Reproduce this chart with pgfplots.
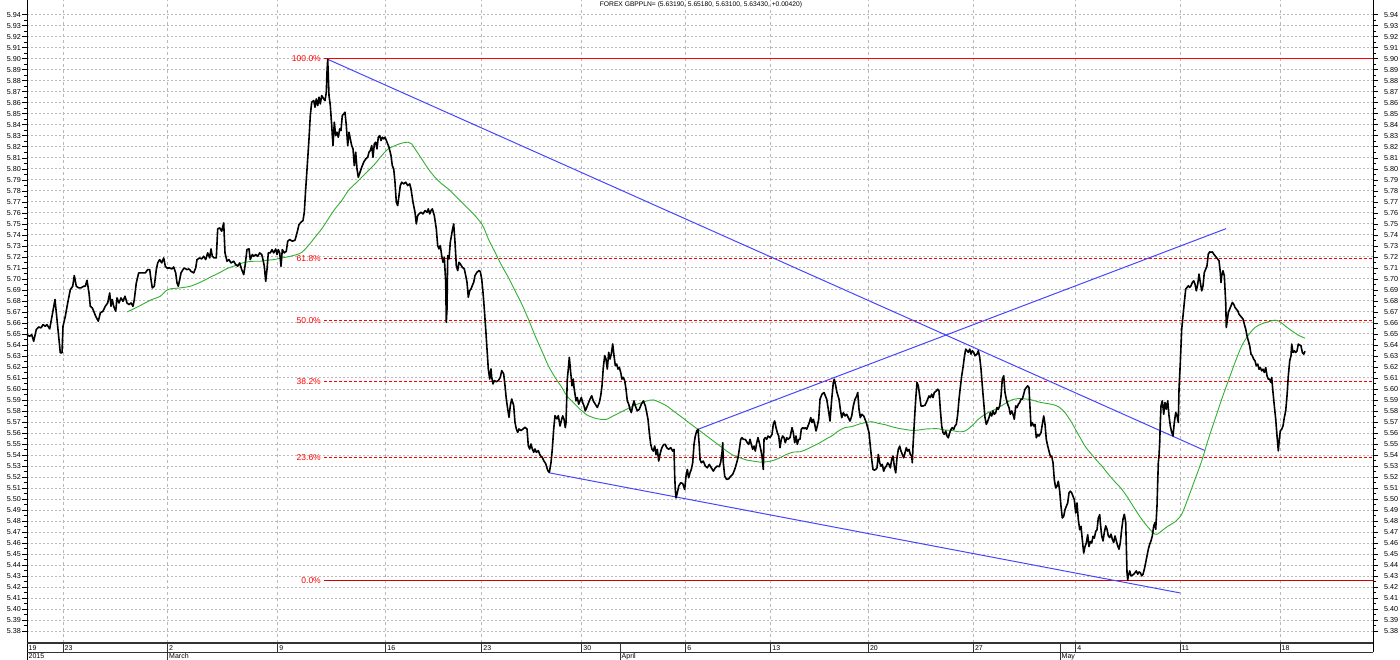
\documentclass[border=0pt]{standalone}
\usepackage{pgfplots}
\pgfplotsset{compat=1.18}
\usepackage{fontspec}
\setmainfont{Liberation Sans}
\definecolor{fibred}{RGB}{255,0,0}
\definecolor{trendblue}{RGB}{70,70,255}
\definecolor{magreen}{RGB}{50,175,50}
\definecolor{gridgray}{RGB}{185,185,185}
\begin{document}
\begin{tikzpicture}
\useasboundingbox (0,0) rectangle (1400bp,660bp);
\begin{axis}[
  at={(27bp,17bp)}, anchor=south west,
  scale only axis, width=1346bp, height=643bp,
  xmin=27, xmax=1373, ymin=5.3691, ymax=5.9534,
  axis line style={draw=none},
  xtick={63,167.5,277.7,385.7,481.7,581.7,685.7,770.7,868.3,973.3,1075.7,1180,1280},
  xticklabels={}, x tick style={draw=none},
  xmajorgrids, x grid style={gridgray, dash pattern=on 3bp off 3bp, line width=0.8bp},
  ytick={5.38,5.39,5.40,5.41,5.42,5.43,5.44,5.45,5.46,5.47,5.48,5.49,5.50,5.51,5.52,5.53,5.54,5.55,5.56,5.57,5.58,5.59,5.60,5.61,5.62,5.63,5.64,5.65,5.66,5.67,5.68,5.69,5.70,5.71,5.72,5.73,5.74,5.75,5.76,5.77,5.78,5.79,5.80,5.81,5.82,5.83,5.84,5.85,5.86,5.87,5.88,5.89,5.90,5.91,5.92,5.93,5.94},
  minor y tick num=1,
  ymajorgrids, y grid style={gridgray, dash pattern=on 2bp off 2bp, line width=0.8bp},
  ytick pos=left, yticklabel pos=left, scaled y ticks=false,
  tick align=outside, major tick length=5bp, minor tick length=3bp,
  y tick style={black, line width=0.6bp},
  yticklabel style={font=\fontsize{7.2bp}{8bp}\selectfont, inner sep=1bp,
    /pgf/number format/fixed, /pgf/number format/fixed zerofill,
    /pgf/number format/precision=2, /pgf/number format/assume math mode=true},
  clip=false,
]
% Fibonacci levels
\addplot[color=fibred, line width=1.3bp] coordinates {(324,5.9000) (1373,5.9000)};
\addplot[color=fibred, line width=1.2bp, dash pattern=on 3bp off 2bp] coordinates {(324,5.7183) (1373,5.7183)};
\addplot[color=fibred, line width=1.2bp, dash pattern=on 3bp off 2bp] coordinates {(324,5.6625) (1373,5.6625)};
\addplot[color=fibred, line width=1.2bp, dash pattern=on 3bp off 2bp] coordinates {(324,5.6067) (1373,5.6067)};
\addplot[color=fibred, line width=1.2bp, dash pattern=on 3bp off 2bp] coordinates {(324,5.5376) (1373,5.5376)};
\addplot[color=fibred!85!black, line width=1.2bp] coordinates {(324,5.4260) (1373,5.4260)};
\begin{scope}[every node/.style={anchor=east, text=fibred, font=\fontsize{8.5bp}{9bp}\selectfont, inner sep=0.5bp}]
\node at (axis cs:321.5,5.9000) {100.0\%};
\node at (axis cs:321.5,5.7183) {61.8\%};
\node at (axis cs:321.5,5.6625) {50.0\%};
\node at (axis cs:321.5,5.6067) {38.2\%};
\node at (axis cs:321.5,5.5376) {23.6\%};
\node at (axis cs:321.5,5.4260) {0.0\%};
\end{scope}
% trend lines
\addplot[trendblue, line width=1bp] coordinates {(327.7,5.8995) (1205,5.5439)};
\addplot[trendblue, line width=1bp] coordinates {(550,5.5236) (1180,5.4146)};
\addplot[trendblue, line width=1bp] coordinates {(698,5.5633) (1226,5.7456)};
% moving average
\addplot[magreen, line width=0.9bp, smooth] coordinates {
(127.0,5.6699)(133.7,5.6727)(142.0,5.6766)(150.3,5.6806)(160.3,5.6842)(165.3,5.6887)(170.3,5.6909)(180.3,5.6918)(190.3,5.6933)(200.3,5.6969)(210.3,5.7015)(220.3,5.7060)(227.0,5.7093)(233.7,5.7115)(240.3,5.7139)(247.0,5.7154)(253.7,5.7160)(260.3,5.7160)(267.0,5.7169)(273.7,5.7175)(280.3,5.7187)(290.3,5.7205)(301.0,5.7236)
(308.3,5.7302)(315.0,5.7378)(321.7,5.7454)(328.3,5.7545)(335.0,5.7636)(341.7,5.7711)(348.3,5.7802)(355.0,5.7863)(361.7,5.7923)(368.3,5.7984)(375.0,5.8045)(381.7,5.8120)(388.3,5.8181)(395.0,5.8211)(401.7,5.8233)(408.3,5.8242)(411.7,5.8226)(415.0,5.8181)(421.7,5.8090)(428.3,5.7999)(435.0,5.7923)(441.7,5.7863)(448.3,5.7817)(455.0,5.7757)(461.7,5.7696)(468.3,5.7636)(475.0,5.7575)(481.7,5.7499)(485.0,5.7439)(488.3,5.7363)(495.0,5.7242)(501.7,5.7120)(508.3,5.7014)(515.0,5.6893)(521.7,5.6772)(528.3,5.6636)(535.0,5.6484)(541.7,5.6348)(548.3,5.6211)(555.0,5.6105)(561.7,5.6015)
(566.7,5.5937)(570.0,5.5907)(573.3,5.5876)(576.7,5.5846)(580.0,5.5815)(583.3,5.5791)(586.7,5.5764)(593.3,5.5739)(600.0,5.5724)(606.7,5.5724)(613.3,5.5755)(620.0,5.5785)(626.7,5.5815)(633.3,5.5846)(640.0,5.5870)(646.7,5.5891)(653.3,5.5900)(660.0,5.5876)(666.7,5.5846)(673.3,5.5800)(680.0,5.5755)(686.7,5.5709)(693.3,5.5663)(700.0,5.5618)(706.7,5.5572)(713.3,5.5527)(720.0,5.5481)(726.7,5.5435)(733.3,5.5396)(740.0,5.5375)(746.7,5.5353)(753.3,5.5344)(760.0,5.5335)(766.7,5.5338)(773.3,5.5350)(780.0,5.5375)(786.7,5.5405)(793.3,5.5426)(800.0,5.5429)(806.7,5.5451)(813.3,5.5481)(820.0,5.5511)(826.7,5.5548)
(831.7,5.5572)(838.3,5.5617)(845.0,5.5648)(851.7,5.5657)(858.3,5.5678)(865.0,5.5693)(871.7,5.5702)(878.3,5.5687)(885.0,5.5675)(891.7,5.5657)(898.3,5.5642)(905.0,5.5632)(911.7,5.5623)(918.3,5.5626)(925.0,5.5635)(931.7,5.5638)(938.3,5.5638)(945.0,5.5626)(951.7,5.5623)(958.3,5.5611)(965.0,5.5617)(971.7,5.5663)(978.3,5.5724)(985.0,5.5769)(991.7,5.5800)(998.3,5.5830)(1005.0,5.5866)(1011.7,5.5900)(1018.3,5.5912)(1025.0,5.5909)(1031.7,5.5900)(1038.3,5.5882)(1045.0,5.5870)(1051.7,5.5860)(1058.3,5.5839)(1065.0,5.5784)(1071.7,5.5693)(1078.3,5.5587)(1085.0,5.5480)(1091.7,5.5404)(1098.3,5.5334)
(1101.7,5.5301)(1108.3,5.5225)(1115.0,5.5155)(1121.7,5.5089)(1128.3,5.5004)(1135.0,5.4907)(1141.7,5.4816)(1148.3,5.4740)(1155.0,5.4680)(1158.3,5.4686)(1161.7,5.4710)(1168.3,5.4755)(1175.0,5.4792)(1181.7,5.4861)(1188.3,5.5013)(1195.0,5.5179)(1201.7,5.5346)(1208.3,5.5543)(1215.0,5.5725)(1221.7,5.5907)(1228.3,5.6073)(1235.0,5.6240)(1241.7,5.6391)(1248.3,5.6488)(1255.0,5.6558)(1261.7,5.6591)(1268.3,5.6610)(1275.0,5.6625)(1280.0,5.6610)(1285.0,5.6573)(1291.7,5.6528)(1298.3,5.6488)(1305.0,5.6461)
};
% price
\addplot[black, line width=1.6bp, line join=round] coordinates {
(27.0,5.6493)(29.7,5.6478)(31.7,5.6493)(33.7,5.6433)(36.3,5.6539)(38.7,5.6563)(41.0,5.6554)(43.0,5.6584)(45.3,5.6569)(47.0,5.6584)(49.7,5.6545)(52.0,5.6660)(55.0,5.6812)(57.0,5.6630)(59.0,5.6448)(60.3,5.6327)(62.0,5.6327)(63.0,5.6569)(65.3,5.6660)(67.7,5.6781)(70.3,5.6902)(72.7,5.6933)(74.3,5.7030)(76.3,5.6933)(78.7,5.6918)(81.0,5.6918)(83.7,5.6933)(85.3,5.6933)(87.0,5.6987)(89.0,5.6872)(90.3,5.6751)(92.3,5.6736)(93.7,5.6706)(95.7,5.6660)(98.3,5.6615)(100.3,5.6690)(103.0,5.6706)(105.3,5.6751)(107.7,5.6781)(109.7,5.6872)(111.0,5.6751)(112.3,5.6812)(113.7,5.6751)(115.7,5.6706)(117.0,5.6827)(119.0,5.6781)(121.0,5.6827)(123.0,5.6796)(125.0,5.6842)(127.0,5.6781)(129.0,5.6766)(131.0,5.6781)(133.0,5.6751)(134.3,5.6812)(136.3,5.6963)(138.7,5.7054)(142.0,5.7054)(145.3,5.7054)(147.7,5.7084)(149.7,5.7084)(151.0,5.6993)(152.3,5.6918)(154.3,5.6933)(156.3,5.7084)(157.7,5.7145)(159.7,5.7175)(161.7,5.7145)(163.7,5.7190)(165.3,5.7115)(167.0,5.7099)(169.7,5.7099)(171.7,5.7090)(173.7,5.7108)(175.7,5.7054)(177.0,5.6963)(178.3,5.6933)(179.7,5.6993)(181.0,5.7054)(183.0,5.7084)(184.3,5.7099)(187.0,5.7084)(189.0,5.7090)(191.0,5.7069)(193.7,5.7054)(195.7,5.7099)(197.0,5.7175)(199.7,5.7190)(201.7,5.7181)(203.7,5.7205)(205.7,5.7175)(207.7,5.7236)(209.7,5.7190)(211.0,5.7272)(212.3,5.7205)(214.3,5.7190)(216.3,5.7190)(217.7,5.7454)(219.7,5.7463)(221.7,5.7433)(223.7,5.7508)(225.0,5.7236)(227.0,5.7160)(229.0,5.7175)(231.0,5.7145)(233.7,5.7160)(235.7,5.7130)(237.7,5.7115)(239.7,5.7145)(241.7,5.7084)(243.7,5.7039)(245.0,5.7115)(247.0,5.7266)(249.0,5.7272)(250.3,5.7175)(252.3,5.7221)(253.7,5.7205)(255.7,5.7221)(257.7,5.7205)(259.7,5.7236)(261.7,5.7221)(263.0,5.7175)(264.3,5.7115)(265.7,5.6978)(267.0,5.7084)(268.3,5.7236)(270.3,5.7236)(272.0,5.7266)(273.7,5.7236)(275.7,5.7272)(277.0,5.7221)(278.3,5.7266)(279.7,5.7236)(281.0,5.7115)(282.3,5.7266)(284.3,5.7236)(286.3,5.7251)(287.7,5.7342)(289.7,5.7357)(292.3,5.7342)(295.0,5.7351)(297.0,5.7418)(299.0,5.7493)(301.0,5.7515)
(303.0,5.7530)(304.3,5.7605)(305.7,5.7817)(307.7,5.8090)(309.0,5.8272)(310.3,5.8484)(311.7,5.8605)(313.7,5.8620)(315.0,5.8560)(316.3,5.8635)(317.7,5.8575)(319.0,5.8651)(320.3,5.8590)(321.7,5.8666)(323.7,5.8635)(325.0,5.8620)(326.3,5.8696)(327.0,5.8878)(327.7,5.8995)(328.3,5.8848)(329.0,5.8666)(330.3,5.8575)(331.7,5.8393)(333.0,5.8211)(334.3,5.8423)(335.7,5.8302)(337.0,5.8332)(338.3,5.8287)(339.7,5.8363)(341.0,5.8348)(342.3,5.8484)(343.7,5.8499)(345.0,5.8514)(346.3,5.8393)(347.7,5.8211)(349.0,5.8332)(350.3,5.8272)(351.7,5.8211)(353.0,5.8181)(354.3,5.8029)(355.7,5.8151)(357.0,5.7999)(358.3,5.7923)(360.0,5.7969)(361.7,5.8014)(363.7,5.8060)(365.7,5.8090)(367.7,5.8105)(369.0,5.8151)(370.3,5.8166)(371.7,5.8211)(373.0,5.8105)(374.3,5.8226)(375.7,5.8242)(377.0,5.8181)(378.3,5.8287)(379.7,5.8302)(381.0,5.8257)(382.3,5.8287)(383.7,5.8272)(385.0,5.8287)(387.0,5.8242)(389.0,5.8196)(391.0,5.8120)(392.3,5.8029)(393.7,5.7999)(395.0,5.7878)(396.3,5.7696)(397.7,5.7666)(399.0,5.7757)(400.3,5.7848)(401.7,5.7878)(403.7,5.7863)(405.7,5.7878)(407.7,5.7848)(409.7,5.7863)(411.0,5.7817)(413.0,5.7696)(415.0,5.7605)(416.3,5.7499)(417.7,5.7575)(419.0,5.7590)(421.0,5.7605)(423.0,5.7590)(425.0,5.7620)(427.0,5.7605)(428.3,5.7636)(429.7,5.7590)(431.0,5.7620)(432.3,5.7636)(434.3,5.7575)(436.3,5.7454)(437.7,5.7302)(439.0,5.7272)(440.3,5.7302)(441.7,5.7211)(443.0,5.7151)(444.3,5.7196)(445.7,5.6969)(446.3,5.6605)(447.0,5.6727)(447.7,5.7211)(449.0,5.7181)(450.3,5.7333)(452.3,5.7439)(453.7,5.7499)(455.0,5.7333)(456.3,5.7120)(457.7,5.7075)(459.0,5.7151)(460.3,5.7136)(462.3,5.7105)(464.3,5.7090)(465.7,5.7030)(467.0,5.6969)(468.3,5.6833)(469.7,5.6893)(471.0,5.6908)(472.3,5.6939)(473.7,5.6969)(475.0,5.7030)(477.0,5.7060)(479.0,5.7075)(480.3,5.7066)(481.7,5.6999)(483.0,5.6878)(484.3,5.6727)(485.7,5.6545)(487.0,5.6363)(488.3,5.6181)(489.7,5.6090)(491.0,5.6181)(491.7,5.6105)(493.0,5.6045)(494.3,5.6075)(496.3,5.6066)(498.3,5.6075)(500.3,5.6105)(501.7,5.6166)(503.7,5.6136)(505.0,5.6030)(506.3,5.5908)(507.7,5.5818)(509.0,5.5742)(510.3,5.5848)(511.7,5.5908)(513.7,5.5848)(515.0,5.5696)(516.3,5.5636)(517.7,5.5605)(519.0,5.5636)(521.0,5.5621)(523.0,5.5636)(525.0,5.5651)(527.0,5.5636)(528.3,5.5484)(529.7,5.5454)(531.0,5.5499)(532.3,5.5454)(533.7,5.5424)(535.0,5.5454)(536.3,5.5424)(538.3,5.5439)(540.3,5.5393)(542.3,5.5378)(543.7,5.5348)(545.7,5.5320)(547.7,5.5260)(549.3,5.5240)(551.0,5.5330)(552.3,5.5454)(553.7,5.5636)(555.0,5.5757)(557.0,5.5727)(558.3,5.5757)
(560.0,5.5663)(561.7,5.5724)(562.7,5.5755)(564.0,5.5724)(565.3,5.5648)(566.0,5.5694)(566.7,5.5907)(567.3,5.6089)(568.3,5.6180)(569.3,5.6287)(570.7,5.6150)(572.0,5.6028)(573.3,5.6089)(574.0,5.6013)(575.0,5.5952)(576.0,5.5891)(577.3,5.5922)(578.7,5.5861)(580.0,5.5891)(581.3,5.5922)(582.7,5.5876)(584.0,5.5846)(585.3,5.5800)(586.7,5.5831)(588.0,5.5861)(590.0,5.5907)(591.7,5.5937)(593.3,5.5891)(595.3,5.5861)(597.3,5.5831)(599.3,5.5876)(600.7,5.5937)(602.0,5.6028)(603.3,5.6195)(604.7,5.6302)(606.0,5.6271)(607.3,5.6180)(608.7,5.6332)(610.0,5.6271)(611.3,5.6317)(612.7,5.6408)(614.0,5.6302)(615.3,5.6211)(616.7,5.6226)(618.0,5.6180)(619.3,5.6195)(620.7,5.6150)(622.0,5.6089)(623.3,5.6104)(624.7,5.6074)(626.0,5.5998)(627.3,5.5891)(628.7,5.5861)(630.0,5.5815)(631.3,5.5785)(632.7,5.5846)(634.0,5.5891)(635.3,5.5846)(637.3,5.5800)(639.3,5.5815)(641.3,5.5861)(643.3,5.5891)(645.3,5.5846)(646.7,5.5785)(648.0,5.5724)(649.3,5.5603)(650.7,5.5496)(652.0,5.5451)(653.3,5.5435)(654.7,5.5481)(656.0,5.5405)(657.3,5.5451)(658.7,5.5344)(660.0,5.5405)(661.3,5.5451)(662.7,5.5481)(664.0,5.5496)(665.3,5.5496)(666.7,5.5466)(668.7,5.5451)(670.7,5.5466)(672.7,5.5435)(674.0,5.5451)(674.7,5.5207)(675.3,5.5086)(676.0,5.5010)(677.3,5.5055)(678.7,5.5116)(680.7,5.5147)(682.7,5.5141)(684.7,5.5086)(686.0,5.5207)(687.3,5.5268)(688.7,5.5192)(690.0,5.5238)(691.3,5.5268)(692.7,5.5329)(694.0,5.5496)(695.3,5.5572)(696.7,5.5618)(698.0,5.5633)(699.3,5.5481)(700.0,5.5359)(701.3,5.5329)(703.3,5.5344)(705.3,5.5299)(707.3,5.5283)(709.3,5.5314)(711.3,5.5283)(713.3,5.5253)(715.3,5.5283)(717.3,5.5299)(719.3,5.5293)(720.7,5.5335)(722.0,5.5420)(722.7,5.5511)(723.3,5.5329)(724.7,5.5207)(726.7,5.5177)(728.7,5.5183)(730.7,5.5207)(732.7,5.5223)(734.7,5.5268)(736.7,5.5329)(738.0,5.5375)(739.3,5.5451)(740.7,5.5542)(742.0,5.5557)(743.3,5.5542)(745.3,5.5542)(747.3,5.5511)(748.7,5.5496)(750.0,5.5542)(751.3,5.5496)(752.7,5.5451)(754.0,5.5481)(755.3,5.5435)(756.7,5.5511)(758.0,5.5557)(759.3,5.5511)(760.7,5.5451)(762.0,5.5390)(763.3,5.5268)(764.0,5.5542)(765.3,5.5557)(766.7,5.5542)(768.0,5.5572)(770.0,5.5557)(772.0,5.5587)(773.3,5.5679)(774.7,5.5709)(776.0,5.5648)(777.3,5.5603)(778.7,5.5572)(780.0,5.5466)(781.3,5.5542)(782.7,5.5572)(784.0,5.5557)(785.3,5.5511)(786.7,5.5557)(788.0,5.5542)(790.0,5.5557)(792.0,5.5648)(793.3,5.5603)(794.7,5.5511)(796.0,5.5572)(797.3,5.5496)(798.7,5.5542)(800.0,5.5542)(801.3,5.5633)(802.7,5.5648)(804.0,5.5639)(805.3,5.5648)(806.7,5.5633)(808.0,5.5663)(809.3,5.5694)(810.7,5.5739)(812.0,5.5694)(813.3,5.5724)(814.7,5.5679)(816.0,5.5618)(817.3,5.5663)(818.7,5.5724)(820.0,5.5907)(822.0,5.5952)(824.0,5.5967)
(826.7,5.5906)(828.3,5.5815)(830.0,5.5708)(831.7,5.5906)(833.3,5.6058)(834.3,5.6088)(835.7,5.6028)(837.0,5.5967)(839.0,5.5906)(840.3,5.5815)(841.7,5.5739)(843.3,5.5784)(845.0,5.5754)(846.7,5.5769)(848.3,5.5739)(850.0,5.5708)(851.7,5.5754)(853.3,5.5845)(855.0,5.5906)(856.7,5.5936)(857.7,5.5967)(859.0,5.5815)(860.3,5.5739)(861.7,5.5769)(863.7,5.5754)(865.0,5.5724)(866.3,5.5693)(867.7,5.5648)(869.0,5.5602)(870.3,5.5480)(871.7,5.5359)(873.0,5.5268)(874.3,5.5262)(875.7,5.5268)(877.0,5.5283)(878.3,5.5404)(879.7,5.5328)(881.0,5.5298)(882.3,5.5313)(883.7,5.5252)(885.0,5.5283)(886.3,5.5298)(887.7,5.5328)(889.0,5.5313)(890.3,5.5283)(891.7,5.5359)(893.0,5.5389)(894.3,5.5298)(895.7,5.5237)(897.0,5.5374)(898.3,5.5450)(899.7,5.5480)(901.0,5.5435)(902.3,5.5404)(903.7,5.5374)(905.0,5.5420)(906.3,5.5465)(907.7,5.5435)(909.0,5.5450)(910.3,5.5404)(911.7,5.5389)(912.3,5.5328)(913.0,5.5480)(914.3,5.5693)(915.7,5.5906)(917.0,5.6058)(918.3,5.6028)(919.7,5.5936)(921.0,5.5845)(923.0,5.5845)(925.0,5.5851)(927.0,5.5891)(929.0,5.5936)(930.3,5.5921)(931.7,5.5952)(933.0,5.5921)(934.3,5.5967)(936.3,5.5982)(937.7,5.5997)(939.0,5.5982)(940.3,5.5815)(941.7,5.5663)(943.0,5.5602)(944.3,5.5587)(945.7,5.5617)(947.0,5.5572)(948.3,5.5556)(949.7,5.5602)(951.0,5.5632)(952.3,5.5648)(953.7,5.5632)(955.0,5.5663)(956.3,5.5678)(957.7,5.5769)(959.0,5.5906)(960.3,5.6012)(961.7,5.6119)(963.0,5.6195)(964.3,5.6286)(965.7,5.6362)(967.0,5.6347)(968.3,5.6332)(969.7,5.6362)(971.0,5.6316)(972.3,5.6347)(973.7,5.6332)(975.0,5.6301)(977.0,5.6316)(978.3,5.6347)(979.7,5.6286)(981.0,5.6180)(982.3,5.6028)(983.7,5.5876)(985.0,5.5739)(986.3,5.5678)(987.7,5.5708)(989.0,5.5739)(990.3,5.5784)(991.7,5.5754)(993.0,5.5800)(994.3,5.5769)(995.7,5.5784)(997.0,5.5830)(998.3,5.5815)(999.7,5.5845)(1001.0,5.5936)(1002.3,5.6088)(1003.7,5.6119)(1005.0,5.5967)(1006.3,5.5906)(1007.7,5.5860)(1009.0,5.5830)(1010.3,5.5769)(1011.7,5.5800)(1013.0,5.5769)(1014.3,5.5724)(1015.7,5.5845)(1017.0,5.5830)(1018.3,5.5860)(1019.7,5.5876)(1021.0,5.5906)(1022.3,5.5906)(1023.7,5.5952)(1025.0,5.5997)(1026.3,5.6012)(1027.7,5.6028)(1029.0,5.6012)(1029.7,5.5876)(1031.0,5.5663)(1032.3,5.5693)(1033.7,5.5663)(1035.0,5.5678)(1036.3,5.5556)(1037.7,5.5587)(1039.0,5.5572)(1041.0,5.5602)(1042.3,5.5678)(1043.7,5.5754)(1045.0,5.5678)(1046.3,5.5541)(1047.7,5.5480)(1049.0,5.5435)(1050.3,5.5389)(1051.7,5.5389)(1053.0,5.5328)(1054.3,5.5176)(1055.7,5.5100)(1057.0,5.5116)(1058.3,5.5161)(1059.7,5.5070)(1061.0,5.4933)(1062.3,5.4827)(1063.7,5.4842)(1065.0,5.4903)(1066.3,5.4933)(1067.7,5.4964)(1069.0,5.5055)(1070.3,5.5070)(1071.7,5.5055)(1073.0,5.5024)(1074.3,5.4994)(1075.7,5.4872)(1077.0,5.4964)(1078.3,5.4812)(1079.7,5.4720)(1081.0,5.4751)(1082.3,5.4629)(1083.7,5.4508)(1085.0,5.4568)(1086.3,5.4599)(1087.7,5.4675)(1089.0,5.4568)(1090.3,5.4614)(1091.7,5.4599)(1093.0,5.4660)(1094.3,5.4644)(1095.7,5.4705)(1097.0,5.4720)(1098.3,5.4827)(1099.7,5.4857)
(1100.3,5.4786)(1101.7,5.4664)(1103.0,5.4619)(1104.3,5.4695)(1105.7,5.4755)(1107.0,5.4725)(1108.3,5.4664)(1109.7,5.4649)(1111.0,5.4680)(1112.3,5.4634)(1113.7,5.4604)(1115.0,5.4664)(1116.3,5.4619)(1117.7,5.4573)(1119.0,5.4543)(1120.3,5.4604)(1121.7,5.4725)(1123.0,5.4816)(1124.3,5.4861)(1125.7,5.4786)(1126.3,5.4573)(1127.0,5.4331)(1127.7,5.4264)(1128.3,5.4301)(1129.7,5.4346)(1131.0,5.4301)(1132.3,5.4307)(1133.7,5.4316)(1135.0,5.4331)(1136.3,5.4346)(1137.7,5.4316)(1139.0,5.4337)(1140.3,5.4331)(1141.7,5.4301)(1143.0,5.4316)(1144.3,5.4361)(1145.7,5.4422)(1147.0,5.4483)(1148.3,5.4543)(1149.7,5.4589)(1151.0,5.4619)(1152.3,5.4664)(1153.7,5.4755)(1155.0,5.4786)(1155.7,5.4725)(1157.0,5.4937)(1158.3,5.5331)(1159.0,5.5392)(1159.7,5.5513)(1160.3,5.5695)(1161.0,5.5846)(1162.3,5.5892)(1163.7,5.5770)(1165.0,5.5876)(1166.3,5.5816)(1167.7,5.5892)(1169.0,5.5755)(1170.3,5.5664)(1171.7,5.5604)(1173.0,5.5573)(1174.3,5.5695)(1175.7,5.5785)(1177.0,5.5755)(1178.3,5.5695)(1179.0,5.5998)(1180.3,5.6240)(1181.7,5.6543)(1183.0,5.6664)(1184.3,5.6785)(1185.7,5.6907)(1187.0,5.6922)(1188.3,5.6937)(1189.7,5.6922)(1191.0,5.6937)(1192.3,5.6967)(1193.7,5.6982)(1195.0,5.6952)(1196.3,5.6891)(1197.7,5.6952)(1199.0,5.7043)(1200.3,5.6967)(1201.7,5.6891)(1203.0,5.6937)(1204.3,5.7058)(1205.7,5.7088)(1207.0,5.7119)(1208.3,5.7225)(1209.7,5.7246)(1211.0,5.7240)(1212.3,5.7246)(1213.7,5.7225)(1215.0,5.7210)(1216.3,5.7194)(1217.7,5.7179)(1219.0,5.7164)(1220.3,5.7058)(1221.0,5.6967)(1221.7,5.7028)(1223.0,5.7073)(1224.3,5.7028)(1225.7,5.6785)(1226.3,5.6558)(1227.0,5.6604)(1228.3,5.6694)(1229.7,5.6725)(1231.0,5.6755)(1232.3,5.6785)(1233.7,5.6770)(1235.0,5.6740)(1236.3,5.6725)(1237.7,5.6710)(1239.0,5.6679)(1240.3,5.6664)(1241.7,5.6649)(1243.0,5.6634)(1244.3,5.6588)(1245.7,5.6543)(1247.0,5.6482)(1248.3,5.6437)(1249.7,5.6391)(1251.0,5.6316)(1252.3,5.6301)(1253.7,5.6270)(1255.0,5.6255)(1256.3,5.6210)(1257.7,5.6225)(1259.0,5.6179)(1260.3,5.6194)(1261.7,5.6164)(1263.0,5.6179)(1264.3,5.6149)(1265.7,5.6194)(1267.0,5.6119)(1268.3,5.6088)(1269.7,5.6088)(1271.0,5.6058)(1271.7,5.6104)(1273.0,5.5967)(1274.3,5.5846)(1275.7,5.5725)(1277.0,5.5573)(1278.3,5.5437)(1279.0,5.5513)(1280.3,5.5619)(1281.7,5.5634)(1283.0,5.5664)(1284.3,5.5740)(1285.7,5.5801)(1287.0,5.5937)(1288.3,5.6119)(1289.7,5.6255)(1291.0,5.6301)(1291.7,5.6407)(1293.0,5.6331)(1294.3,5.6346)(1295.7,5.6331)(1297.0,5.6346)(1298.3,5.6407)(1299.7,5.6398)(1301.0,5.6392)(1302.3,5.6331)(1303.7,5.6316)(1305.0,5.6343)
};
\end{axis}
\begin{axis}[
  at={(27bp,17bp)}, anchor=south west,
  scale only axis, width=1346bp, height=643bp,
  xmin=27, xmax=1373, ymin=5.3691, ymax=5.9534,
  axis line style={draw=none}, hide x axis,
  ytick={5.38,5.39,5.40,5.41,5.42,5.43,5.44,5.45,5.46,5.47,5.48,5.49,5.50,5.51,5.52,5.53,5.54,5.55,5.56,5.57,5.58,5.59,5.60,5.61,5.62,5.63,5.64,5.65,5.66,5.67,5.68,5.69,5.70,5.71,5.72,5.73,5.74,5.75,5.76,5.77,5.78,5.79,5.80,5.81,5.82,5.83,5.84,5.85,5.86,5.87,5.88,5.89,5.90,5.91,5.92,5.93,5.94},
  minor y tick num=1,
  ytick pos=right, yticklabel pos=right, scaled y ticks=false,
  tick align=outside, major tick length=5bp, minor tick length=3bp,
  y tick style={black, line width=0.6bp},
  yticklabel style={font=\fontsize{7.2bp}{8bp}\selectfont, inner sep=1bp, xshift=5bp,
    /pgf/number format/fixed, /pgf/number format/fixed zerofill,
    /pgf/number format/precision=2, /pgf/number format/assume math mode=true},
]
\end{axis}
\begin{scope}[x=1bp, y=-1bp, yshift=660bp]
\node[font=\fontsize{6.7bp}{8bp}\selectfont, inner sep=0pt] at (701,5) {FOREX GBPPLN= (5.63190, 5.65180, 5.63100, 5.63430, +0.00420)};
\draw[black, line width=0.9bp] (27,0) -- (27,660);
\draw[black, line width=0.9bp] (1373,0) -- (1373,652);
\draw[black!80, line width=1.6bp] (27,643) -- (1373,643);
\draw[black!80, line width=0.9bp] (27,652) -- (1373,652);
\foreach \t in {63,167.5,277.7,385.7,481.7,581.7,685.7,770.7,868.3,973.3,1075.7,1180,1280,620,1060}
  \draw[black!80, line width=0.8bp] (\t,643) -- (\t,652);
\foreach \t in {167.5,620,1060}
  \draw[black!80, line width=0.8bp] (\t,652) -- (\t,660);
\begin{scope}[every node/.style={anchor=west, font=\fontsize{7bp}{8bp}\selectfont, inner sep=0pt}]
\node at (28.5,648) {19};
\node at (64.5,648) {23};
\node at (169,648) {2};
\node at (279.2,648) {9};
\node at (387.2,648) {16};
\node at (483.2,648) {23};
\node at (583.2,648) {30};
\node at (687.2,648) {6};
\node at (772.2,648) {13};
\node at (869.8,648) {20};
\node at (974.8,648) {27};
\node at (1077.2,648) {4};
\node at (1181.5,648) {11};
\node at (1281.5,648) {18};
\node at (28.5,656.5) {2015};
\node at (169,656.5) {March};
\node at (621.5,656.5) {April};
\node at (1061.5,656.5) {May};
\end{scope}
\end{scope}
\end{tikzpicture}
\end{document}
